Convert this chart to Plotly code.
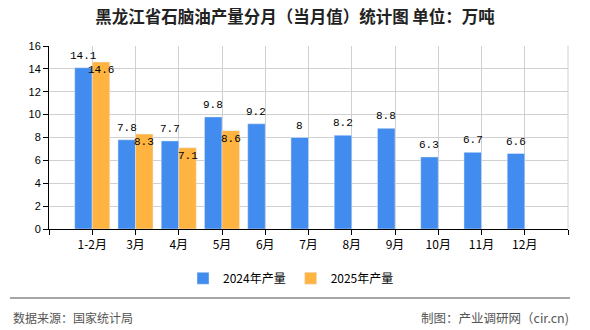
import plotly.graph_objects as go

categories = ["1-2月", "3月", "4月", "5月", "6月", "7月", "8月", "9月", "10月", "11月", "12月"]
values_2024 = [14.1, 7.8, 7.7, 9.8, 9.2, 8, 8.2, 8.8, 6.3, 6.7, 6.6]
values_2025 = [14.6, 8.3, 7.1, 8.6]
series_names = ["2024年产量", "2025年产量"]
y_ticks = [0, 2, 4, 6, 8, 10, 12, 14, 16]
title_text = "黑龙江省石脑油产量分月（当月值）统计图 单位：万吨"
source_text = "数据来源：国家统计局"
credit_text = "制图：产业调研网（cir.cn)"

BLUE = "#428CEF"
ORANGE = "#FFB340"
CJK = "Noto Sans CJK SC"
MONO = "Liberation Mono"
BARGAP = 0.19
NGROUP = 2
half = (1 - BARGAP) / NGROUP / 2

xpos = list(range(len(categories)))
x2025 = xpos[:len(values_2025)]

fig = go.Figure()
fig.add_trace(go.Bar(x=xpos, y=values_2024, name=series_names[0], marker_color=BLUE))
fig.add_trace(go.Bar(x=x2025, y=values_2025, name=series_names[1], marker_color=ORANGE))

label_font = dict(family=MONO, size=11, color="#000")
annotations = []
for x, v in zip(xpos, values_2024):
    annotations.append(dict(x=x - half, y=v, xref="x", yref="y", text=f"{v:g}",
                            showarrow=False, yanchor="bottom", yshift=4, font=label_font))
for x, v in zip(x2025, values_2025):
    annotations.append(dict(x=x + half, y=v, xref="x", yref="y", text=f"{v:g}",
                            showarrow=False, yanchor="top", yshift=0, font=label_font))

annotations += [
    dict(text=source_text, xref="paper", yref="paper", x=(11 - 49) / 519, xanchor="left",
         y=-(317 - 229) / 183, yanchor="middle", showarrow=False,
         font=dict(family=CJK, size=12, color="#555")),
    dict(text=credit_text, xref="paper", yref="paper", x=(571 - 49) / 519, xanchor="right",
         y=-(317 - 229) / 183, yanchor="middle", showarrow=False,
         font=dict(family=CJK, size=12.5, color="#555")),
]

tickvals = list(range(-1, len(categories) + 1))
ticktext = [""] + categories + [""]

fig.update_layout(
    width=590, height=330,
    margin=dict(l=49, r=22, t=46, b=101),
    paper_bgcolor="white", plot_bgcolor="white",
    barmode="group", bargap=BARGAP, bargroupgap=0,
    title=dict(text=f"<b>{title_text}</b>", x=0.5, xanchor="center", y=0.947, yanchor="middle",
               font=dict(family=CJK, size=16.5, color="#222")),
    showlegend=True,
    legend=dict(orientation="h", x=(291 - 49) / 519, xanchor="center", y=-0.19, yanchor="top",
                font=dict(family=CJK, size=12, color="#000"), itemwidth=30,
                traceorder="normal"),
    xaxis=dict(range=[-1, len(categories)], tickmode="array", tickvals=tickvals, ticktext=ticktext,
               showgrid=True, gridcolor="#d0d0d0", gridwidth=1,
               showline=True, linecolor="#000", linewidth=1,
               ticks="outside", ticklen=5, tickcolor="#000",
               tickfont=dict(family=CJK, size=12, color="#000"), zeroline=False, fixedrange=True),
    yaxis=dict(range=[0, 16], tickmode="array", tickvals=y_ticks,
               showgrid=True, gridcolor="#d0d0d0", gridwidth=1,
               showline=True, linecolor="#000", linewidth=1,
               ticks="outside", ticklen=5, tickcolor="#000",
               tickfont=dict(family="Liberation Sans", size=11, color="#000"), zeroline=False,
               fixedrange=True),
    shapes=[
        dict(type="line", xref="paper", yref="paper", x0=1, x1=1, y0=0, y1=1,
             line=dict(color="#d0d0d0", width=1)),
        dict(type="line", xref="paper", yref="paper",
             x0=(10 - 49) / 519, x1=(570 - 49) / 519,
             y0=-(298 - 229) / 183, y1=-(298 - 229) / 183,
             line=dict(color="#888", width=1.5)),
    ],
    annotations=annotations,
)

fig.write_html("out.html")
